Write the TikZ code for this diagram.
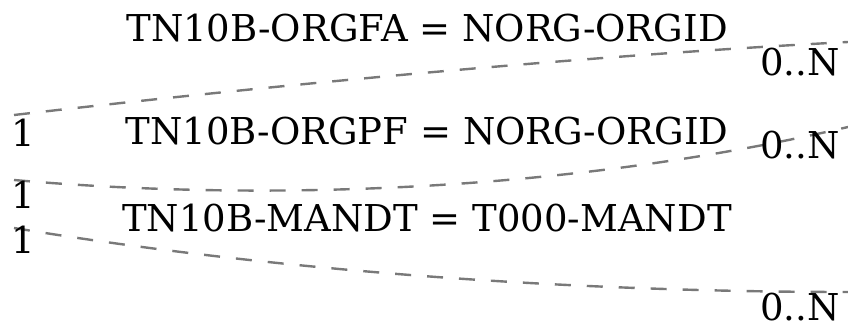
\documentclass[tikz,border=0pt]{standalone}
\usepackage{fontspec}
\setmainfont{DejaVu Serif}
\begin{document}
\begin{tikzpicture}[x=1pt,y=-1pt,
  lbl/.style={inner sep=0pt,font=\fontsize{37}{42}\selectfont},
  rel/.style={draw=gray!95!black,line width=2.4pt,dash pattern=on 16pt off 16pt}]
\useasboundingbox (0,0) rectangle (848,323);
\coordinate (a1) at (14,115);
\coordinate (b1) at (848,42);
\coordinate (a2) at (14,180);
\coordinate (b2) at (848,127);
\coordinate (a3) at (14,228);
\coordinate (b3) at (848,292);
\draw[rel] (a1) .. controls (300,82) and (600,55) .. (b1);
\draw[rel] (a2) .. controls (300,205) and (600,185) .. (b2);
\draw[rel] (a3) .. controls (300,275) and (600,292) .. (b3);
\node[lbl] (t1) at (427,28) {TN10B-ORGFA = NORG-ORGID};
\node[lbl] (t2) at (427,131) {TN10B-ORGPF = NORG-ORGID};
\node[lbl] (t3) at (427,218) {TN10B-MANDT = T000-MANDT};
\node[lbl] (o1) at (23,133) {1};
\node[lbl] (o2) at (23,195) {1};
\node[lbl] (o3) at (23,240) {1};
\node[lbl] (n1) at (800,62) {0..N};
\node[lbl] (n2) at (800,145) {0..N};
\node[lbl] (n3) at (800,307) {0..N};
\end{tikzpicture}
\end{document}
